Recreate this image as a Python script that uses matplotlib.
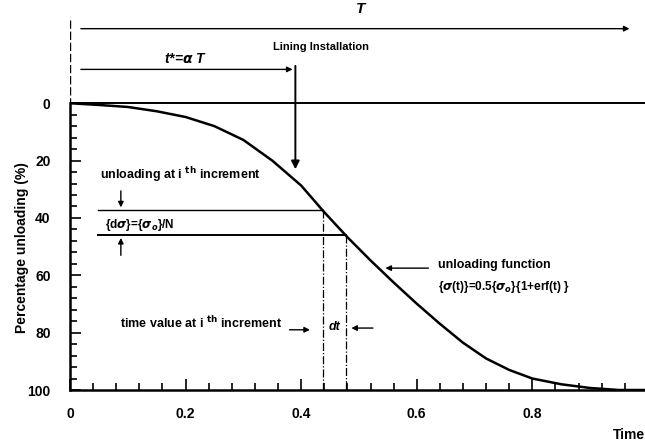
import matplotlib
matplotlib.use("Agg")
import matplotlib.pyplot as plt
from matplotlib.ticker import MultipleLocator, FixedLocator, FuncFormatter

plt.rcParams['font.family'] = ['Liberation Sans', 'DejaVu Sans']
plt.rcParams['font.weight'] = 'bold'

# unloading curve (time, percentage unloading)
time = [0.0, 0.05, 0.1, 0.15, 0.2, 0.25, 0.3, 0.35, 0.4, 0.44, 0.48, 0.52,
        0.56, 0.6, 0.64, 0.68, 0.72, 0.76, 0.8, 0.85, 0.9, 0.95, 0.995]
unloading = [0.0, 0.6, 1.3, 2.8, 4.8, 8.0, 12.8, 20.0, 28.7, 38.0, 46.7, 54.8,
             62.5, 69.9, 76.9, 83.5, 89.0, 93.0, 96.0, 98.0, 99.3, 100.0, 100.0]

# increment i and i+1
t_i = [0.437, 0.477]
u_i = [37.3, 46.0]
t_install = 0.39

y_ticks = [0, 20, 40, 60, 80, 100]
x_ticks = [0, 0.2, 0.4, 0.6, 0.8]

fig = plt.figure(figsize=(6.45, 4.45), dpi=100)
ax = fig.add_axes([70 / 645, 55 / 445, 575 / 645, 390 / 445])
ax.set_xlim(0, 0.995)
ax.set_ylim(100, -36)

ax.plot(time, unloading, color='black', lw=1.8)

# frame: only left (0..100) and bottom spines
ax.spines['top'].set_visible(False)
ax.spines['right'].set_visible(False)
ax.spines['left'].set_bounds(0, 100)
ax.spines['left'].set_linewidth(1.8)
ax.spines['bottom'].set_linewidth(1.8)
ax.axhline(0, color='black', lw=1.4)
ax.plot([0, 0], [-29, 0], color='black', lw=1.0, ls=(0, (6, 2)))

ax.yaxis.set_major_locator(FixedLocator(y_ticks))
ax.yaxis.set_minor_locator(FixedLocator(list(range(0, 101, 4))))
ax.xaxis.set_major_locator(FixedLocator(x_ticks))
ax.xaxis.set_minor_locator(MultipleLocator(0.04))
ax.xaxis.set_major_formatter(FuncFormatter(lambda v, p: '0' if v == 0 else f'{v:.1f}'))
ax.tick_params(which='both', direction='in', width=1.2, labelsize=10)
ax.tick_params(which='major', length=8)
ax.tick_params(which='minor', length=5)
ax.tick_params(axis='x', pad=12)
ax.tick_params(axis='y', pad=14)

arrow = dict(arrowstyle='-|>', color='black', lw=1.0, mutation_scale=8)

# T span
ax.annotate('', xy=(0.973, -26), xytext=(0.014, -26), arrowprops=arrow)
ax.text(0.503, -33, 'T', ha='center', va='center', fontsize=11, style='italic')

# t* span and lining installation
ax.annotate('', xy=(t_install, -11.8), xytext=(0.014, -11.8), arrowprops=arrow)
ax.text(0.2, -15.5, r't*=$\alpha$ T', ha='center', va='center', fontsize=10, style='italic')
ax.text(0.435, -19.5, 'Lining Installation', ha='center', va='center', fontsize=8)
ax.annotate('', xy=(t_install, 24), xytext=(t_install, -14),
            arrowprops=dict(arrowstyle='-|>', color='black', lw=1.4, mutation_scale=12))

# increment lines
ax.plot([0.048, t_i[0]], [u_i[0], u_i[0]], color='black', lw=1.0)
ax.plot([0.048, t_i[1]], [u_i[1], u_i[1]], color='black', lw=1.4)
ax.plot([t_i[0], t_i[0]], [u_i[0], 100], color='black', lw=0.9, ls='-.')
ax.plot([t_i[1], t_i[1]], [u_i[1], 100], color='black', lw=0.9, ls='-.')

ax.text(0.052, 25, r'unloading at i $^{\mathbf{th}}$ increment', va='center', fontsize=9)
ax.annotate('', xy=(0.088, u_i[0]), xytext=(0.088, 29.6), arrowprops=arrow)
ax.annotate('', xy=(0.088, u_i[1]), xytext=(0.088, 54), arrowprops=arrow)
ax.text(0.06, 42.3, r'{d$\sigma$}={$\sigma_o$}/N', va='center', fontsize=8.5)

# unloading function
ax.annotate('', xy=(0.541, 57.5), xytext=(0.625, 57.5), arrowprops=arrow)
ax.text(0.636, 56.4, 'unloading function', va='center', fontsize=9)
ax.text(0.636, 64, r'{$\sigma$(t)}=0.5{$\sigma_o$}{1+erf(t) }', va='center', fontsize=8.5)

# time increment
ax.text(0.086, 76.7, r'time value at i $^{\mathbf{th}}$ increment', va='center', fontsize=9)
ax.annotate('', xy=(0.42, 79), xytext=(0.375, 79), arrowprops=arrow)
ax.text(0.457, 78, 'dt', ha='center', va='center', fontsize=9, style='italic')
ax.annotate('', xy=(0.482, 78.4), xytext=(0.529, 78.4), arrowprops=arrow)

fig.text(22 / 645, 1 - 248 / 445, 'Percentage unloading (%)', rotation=90,
         ha='center', va='center', fontsize=10)
fig.text(1.0, 1 - 435 / 445, 'Time', ha='right', va='center', fontsize=10)

fig.savefig('out.png', dpi=100)
